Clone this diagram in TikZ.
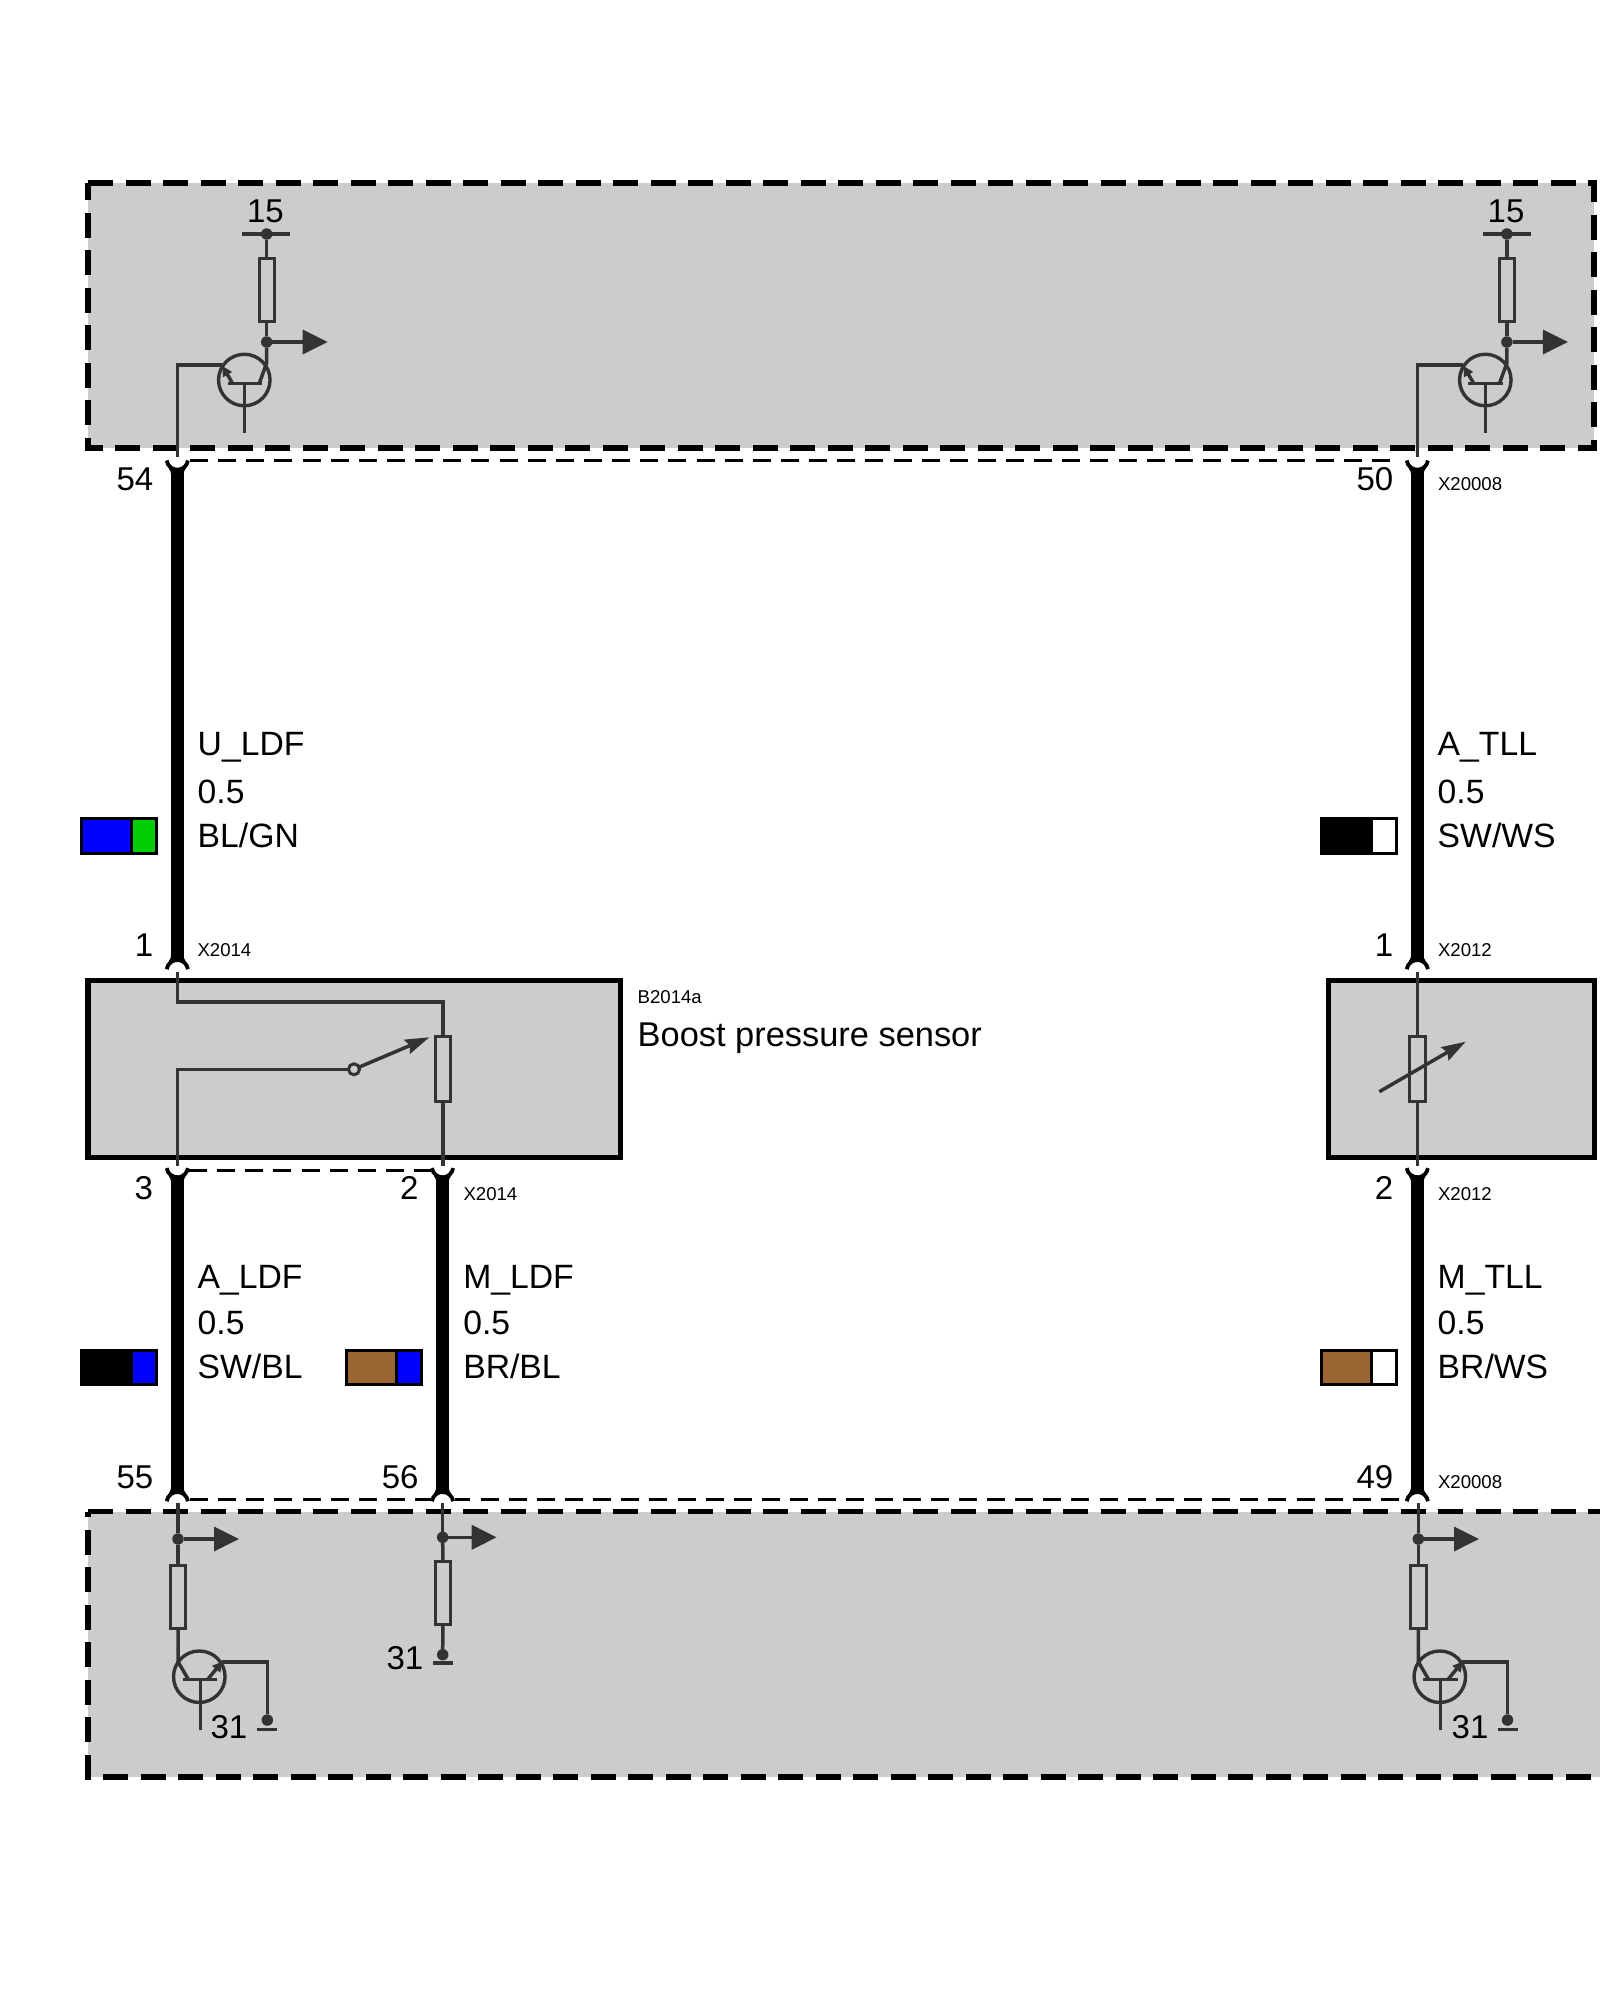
\documentclass[tikz,border=0pt]{standalone}
\usepackage{fontspec}
\setmainfont{Liberation Sans}
\usetikzlibrary{arrows.meta,positioning}
\definecolor{ecugray}{RGB}{204,204,204}
\definecolor{wiregray}{RGB}{51,51,51}
\definecolor{wirebrown}{RGB}{153,102,51}
\definecolor{wiregreen}{RGB}{0,204,0}

\begin{document}
\begin{tikzpicture}[
        x=1pt, y=-1pt,
        ecu/.style={fill=ecugray, draw=black, line width=5.6pt, dash pattern=on 25pt off 12.5pt},
        sensor/.style={rectangle, fill=ecugray, draw=black, line width=5.3pt, inner sep=0pt, outer sep=0pt, anchor=north west},
        wire/.style={draw=black, line width=12.4pt},
        thinwire/.style={draw=wiregray, line width=3.5pt},
        groupline/.style={draw=black, line width=3pt, dash pattern=on 18pt off 10.14pt},
        resistor/.style={rectangle, draw=wiregray, line width=3.4pt, minimum width=15pt, minimum height=63pt, inner sep=0pt, outer sep=0pt},
        joint/.style={circle, fill=wiregray, minimum size=11.5pt, inner sep=0pt, outer sep=0pt},
        tran/.style={circle, draw=wiregray, line width=3.4pt, minimum size=51.5pt, inner sep=0pt, outer sep=0pt},
        flag/.style={thinwire, -{Triangle[length=25pt,width=24pt]}},
        wiper/.style={thinwire, -{Stealth[length=24pt,width=15pt,inset=3pt]}},
        emit/.style={thinwire, -{Triangle[length=10pt,width=10pt]}},
        swatch/.style={rectangle, draw=black, line width=3pt, minimum height=34.5pt, inner sep=0pt, outer sep=0pt},
        big/.style={anchor=base west, inner sep=0pt, outer sep=0pt, text=black, font=\fontsize{33.7}{36}\selectfont},
        pinno/.style={anchor=base east, inner sep=0pt, outer sep=0pt, text=black, font=\fontsize{33}{36}\selectfont},
        term/.style={anchor=base, inner sep=0pt, outer sep=0pt, text=black, font=\fontsize{33}{36}\selectfont},
        tag/.style={anchor=base west, inner sep=0pt, outer sep=0pt, text=black, font=\fontsize{18.6}{20}\selectfont},
        capover/.pic={
            \fill[black] (-6.2,-5) .. controls (-6.2,-2.5) and (-7,-1) .. (-8.5,1.5) -- (0,1) -- (8.5,1.5) .. controls (7,-1) and (6.2,-2.5) .. (6.2,-5) -- cycle;
            \draw[black, line width=3.8pt] (-10.6,9.2) arc[start angle=172, end angle=8, radius=10.7pt];
        },
        capunder/.pic={
            \fill[black] (-6.2,5) .. controls (-6.2,2.5) and (-7,1) .. (-8.5,-1.5) -- (0,-1) -- (8.5,-1.5) .. controls (7,1) and (6.2,2.5) .. (6.2,5) -- cycle;
            \draw[black, line width=3.8pt] (-10.6,-9.2) arc[start angle=188, end angle=352, radius=10.7pt];
        }
    ]
        \clip (0,0) rectangle (1600,2000);

        % Control units
        \path[ecu] (88,183) -- (1594,183) -- (1594,448) -- (88,448) -- cycle;
        \path[ecu] (88,1511.5) -- (1625.25,1511.5) -- (1625.25,1777) -- (88,1777) -- cycle;

        % Sensors
        \node[sensor, minimum width=532.6pt, minimum height=177pt] (ldf) at (88,980.5) {};
        \node[sensor, minimum width=266.5pt, minimum height=177pt] (tll) at (1328.3,980.5) {};

        % Pins
        \coordinate (p54) at (177.3,469.7);
        \coordinate (p50) at (1417.3,469.7);
        \coordinate (p1l) at (177.3,960);
        \coordinate (p1r) at (1417.3,960);
        \coordinate (p3) at (177.3,1177.3);
        \coordinate (p2l) at (442.5,1177.3);
        \coordinate (p2r) at (1417.3,1177.3);
        \coordinate (p55) at (177.3,1492);
        \coordinate (p56) at (442.5,1492);
        \coordinate (p49) at (1417.3,1492);

        % Wires
        \draw[wire] (p54) -- (p1l);
        \draw[wire] (p50) -- (p1r);
        \draw[wire] (p3) -- (p55);
        \draw[wire] (p2l) -- (p56);
        \draw[wire] (p2r) -- (p49);

        \pic at (p54) {capunder};
        \pic at (p50) {capunder};
        \pic at (p1l) {capover};
        \pic at (p1r) {capover};
        \pic at (p3) {capunder};
        \pic at (p2l) {capunder};
        \pic at (p2r) {capunder};
        \pic at (p55) {capover};
        \pic at (p56) {capover};
        \pic at (p49) {capover};

        % Connector group lines
        \coordinate (ga) at (190,460.7);
        \coordinate (gb) at (1392,460.7);
        \coordinate (gc) at (189,1170);
        \coordinate (gd) at (432,1170);
        \coordinate (ge) at (190,1499);
        \coordinate (gf) at (431,1499);
        \coordinate (gg) at (455,1499);
        \coordinate (gh) at (1400,1499);
        \draw[groupline] (ga) -- (gb);
        \draw[groupline] (gc) -- (gd);
        \draw[groupline] (ge) -- (gf);
        \draw[groupline, dash phase=2.6pt] (gg) -- (gh);

        % Top left driver
        \node[joint] (s15a) at (266.7,234) {};
        \node[resistor] (r15a) at (266.7,290) {};
        \node[joint] (j15a) at (266.7,342) {};
        \node[tran] (q15a) at (244.3,380) {};
        \node[term] (t15a) at (265.5,222.5) {15};
        \coordinate (fa) at (327.7,342);
        \coordinate (ca) at (266.7,363);
        \coordinate (cb) at (259.3,383.3);
        \coordinate (ba) at (227.7,383.3);
        \coordinate (bb) at (261.7,383.3);
        \coordinate (bc) at (244.3,383.3);
        \coordinate (bd) at (244.3,433.3);
        \coordinate (ea) at (232.3,383);
        \coordinate (eb) at (222.5,366);
        \coordinate (ec) at (222,365);
        \coordinate (pa) at (177.3,457);
        \draw[thinwire] (242.3,234) -- (290,234);
        \draw[thinwire] (s15a) -- (r15a);
        \draw[thinwire] (r15a) -- (j15a);
        \draw[flag] (j15a) -- (fa);
        \draw[thinwire] (j15a) -- (ca) -- (cb);
        \draw[thinwire] (ba) -- (bb);
        \draw[thinwire] (bc) -- (bd);
        \draw[emit] (ea) -- (eb);
        \draw[thinwire] (pa) |- (ec);

        % Top right driver
        \node[joint] (s15b) at (1506.9,234) {};
        \node[resistor] (r15b) at (1506.9,290) {};
        \node[joint] (j15b) at (1506.9,342) {};
        \node[tran] (q15b) at (1485.3,380) {};
        \node[term] (t15b) at (1506,222.5) {15};
        \coordinate (fb) at (1567.9,342);
        \coordinate (cc) at (1506.9,363);
        \coordinate (cd) at (1499.5,383.3);
        \coordinate (be) at (1468,383.3);
        \coordinate (bf) at (1502.5,383.3);
        \coordinate (bg) at (1485.3,383.3);
        \coordinate (bh) at (1485.3,433.3);
        \coordinate (ed) at (1473.5,383);
        \coordinate (ee) at (1463.5,366);
        \coordinate (ef) at (1463,365);
        \coordinate (pb) at (1417.3,457);
        \draw[thinwire] (1482.5,234) -- (1530.5,234);
        \draw[thinwire] (s15b) -- (r15b);
        \draw[thinwire] (r15b) -- (j15b);
        \draw[flag] (j15b) -- (fb);
        \draw[thinwire] (j15b) -- (cc) -- (cd);
        \draw[thinwire] (be) -- (bf);
        \draw[thinwire] (bg) -- (bh);
        \draw[emit] (ed) -- (ee);
        \draw[thinwire] (pb) |- (ef);

        % Boost pressure sensor
        \node[resistor, minimum height=65pt] (rldf) at (443,1068.8) {};
        \node[circle, draw=wiregray, line width=3pt, minimum size=11pt, inner sep=0pt, outer sep=0pt] (sw) at (354,1069.3) {};
        \coordinate (la) at (177.3,971.7);
        \coordinate (lb) at (177.3,1166);
        \coordinate (lc) at (443,1166);
        \coordinate (ld) at (429.3,1037.3);
        \draw[thinwire] (la) -- (177.3,1002) -- (443,1002) -- (rldf.north);
        \draw[thinwire] (lb) |- (sw.west);
        \draw[thinwire] (rldf) -- (lc);
        \draw[wiper] (sw) -- (ld);

        % Temperature sensor
        \node[resistor, minimum width=16pt, minimum height=65pt] (rtll) at (1417.3,1068.8) {};
        \coordinate (ra) at (1417.3,971.7);
        \coordinate (rb) at (1417.3,1166);
        \coordinate (rc) at (1379.3,1091.7);
        \coordinate (rd) at (1465.7,1041.7);
        \draw[thinwire] (ra) -- (rtll);
        \draw[thinwire] (rtll) -- (rb);
        \draw[wiper] (rc) -- (rd);

        % Bottom left driver
        \coordinate (pc) at (178,1503);
        \node[joint] (j55) at (178,1539) {};
        \node[resistor] (r55) at (178,1597) {};
        \node[tran] (q55) at (199.3,1676.7) {};
        \node[joint] (g55) at (267.3,1720) {};
        \node[term] (t55) at (229,1738) {31};
        \coordinate (f55) at (239,1539);
        \coordinate (c55a) at (178,1661.7);
        \coordinate (c55b) at (188.3,1679.3);
        \coordinate (b55a) at (182.7,1679.3);
        \coordinate (b55b) at (217.3,1679.3);
        \coordinate (b55c) at (200.3,1679.3);
        \coordinate (b55d) at (200.3,1730);
        \coordinate (e55a) at (208,1679);
        \coordinate (e55b) at (222.5,1661.5);
        \coordinate (e55c) at (221.7,1662);
        \draw[thinwire] (pc) -- (j55);
        \draw[thinwire] (j55) -- (r55);
        \draw[flag] (j55) -- (f55);
        \draw[thinwire] (r55) -- (c55a) -- (c55b);
        \draw[thinwire] (b55a) -- (b55b);
        \draw[thinwire] (b55c) -- (b55d);
        \draw[emit] (e55a) -- (e55b);
        \draw[thinwire] (e55c) -| (g55);
        \draw[thinwire] (256.7,1729.3) -- (277.3,1729.3);

        % Bottom middle pull-down
        \coordinate (pd) at (442.7,1503);
        \node[joint] (j56) at (442.7,1537.3) {};
        \node[resistor] (r56) at (443,1593) {};
        \node[joint] (g56) at (442.7,1654.7) {};
        \node[term] (t56) at (405,1669) {31};
        \coordinate (f56) at (496.7,1537.3);
        \draw[thinwire] (pd) -- (j56);
        \draw[thinwire] (j56) -- (r56);
        \draw[flag] (j56) -- (f56);
        \draw[thinwire] (r56) -- (g56);
        \draw[thinwire] (432.7,1663) -- (453.3,1663);

        % Bottom right driver
        \coordinate (pe) at (1418.3,1503);
        \node[joint] (j49) at (1418.3,1539) {};
        \node[resistor, minimum width=16pt] (r49) at (1418.3,1597) {};
        \node[tran] (q49) at (1439.8,1676.7) {};
        \node[joint] (g49) at (1507.5,1720) {};
        \node[term] (t49) at (1470,1738) {31};
        \coordinate (f49) at (1479,1539);
        \coordinate (c49a) at (1418.3,1661.7);
        \coordinate (c49b) at (1428.5,1679.3);
        \coordinate (b49a) at (1423,1679.3);
        \coordinate (b49b) at (1457.5,1679.3);
        \coordinate (b49c) at (1440.3,1679.3);
        \coordinate (b49d) at (1440.3,1730);
        \coordinate (e49a) at (1448.3,1679);
        \coordinate (e49b) at (1462.8,1661.5);
        \coordinate (e49c) at (1462,1662);
        \draw[thinwire] (pe) -- (j49);
        \draw[thinwire] (j49) -- (r49);
        \draw[flag] (j49) -- (f49);
        \draw[thinwire] (r49) -- (c49a) -- (c49b);
        \draw[thinwire] (b49a) -- (b49b);
        \draw[thinwire] (b49c) -- (b49d);
        \draw[emit] (e49a) -- (e49b);
        \draw[thinwire] (e49c) -| (g49);
        \draw[thinwire] (1497.5,1729.3) -- (1517.5,1729.3);

        % Colour swatches
        \node[swatch, fill=blue, minimum width=50.2pt, anchor=west] (ulda) at (81.5,835.8) {};
        \node[swatch, fill=wiregreen, minimum width=25.1pt, right=0pt of ulda] (uldb) {};
        \node[swatch, fill=black, minimum width=50.2pt, anchor=west] (atla) at (1321.5,835.8) {};
        \node[swatch, fill=white, minimum width=25.1pt, right=0pt of atla] (atlb) {};
        \node[swatch, fill=black, minimum width=50.2pt, anchor=west] (alda) at (81.5,1367.5) {};
        \node[swatch, fill=blue, minimum width=25.1pt, right=0pt of alda] (aldb) {};
        \node[swatch, fill=wirebrown, minimum width=50.2pt, anchor=west] (mlda) at (346.5,1367.5) {};
        \node[swatch, fill=blue, minimum width=25.1pt, right=0pt of mlda] (mldb) {};
        \node[swatch, fill=wirebrown, minimum width=50.2pt, anchor=west] (mtla) at (1321.5,1367.5) {};
        \node[swatch, fill=white, minimum width=25.1pt, right=0pt of mtla] (mtlb) {};

        % Wire labels
        \node[big] (uldf) at (197.7,755.7) {U\_LDF};
        \node[big] (uldfs) at (197.7,803) {0.5};
        \node[big] (uldfc) at (197.7,847.4) {BL/GN};
        \node[big] (atll) at (1437.7,755.7) {A\_TLL};
        \node[big] (atlls) at (1437.7,803) {0.5};
        \node[big] (atllc) at (1437.7,847.4) {SW/WS};
        \node[big] (aldf) at (197.7,1288.3) {A\_LDF};
        \node[big] (aldfs) at (197.7,1334) {0.5};
        \node[big] (aldfc) at (197.7,1378) {SW/BL};
        \node[big] (mldf) at (463.3,1288.3) {M\_LDF};
        \node[big] (mldfs) at (463.3,1334) {0.5};
        \node[big] (mldfc) at (463.3,1378) {BR/BL};
        \node[big] (mtll) at (1437.7,1288.3) {M\_TLL};
        \node[big] (mtlls) at (1437.7,1334) {0.5};
        \node[big] (mtllc) at (1437.7,1378) {BR/WS};

        % Pin numbers
        \node[pinno] (n54) at (153.3,490.7) {54};
        \node[pinno] (n50) at (1393.3,490.7) {50};
        \node[pinno] (n1l) at (153.3,956) {1};
        \node[pinno] (n1r) at (1393.3,956) {1};
        \node[pinno] (n3) at (153,1199.3) {3};
        \node[pinno] (n2l) at (418.5,1199.3) {2};
        \node[pinno] (n2r) at (1393.3,1199.3) {2};
        \node[pinno] (n55) at (153.3,1488) {55};
        \node[pinno] (n56) at (418.5,1488) {56};
        \node[pinno] (n49) at (1393.3,1488) {49};

        % Connector tags
        \node[tag] (x1) at (197.5,956.6) {X2014};
        \node[tag] (x2) at (463.5,1200) {X2014};
        \node[tag] (x3) at (1438,956.6) {X2012};
        \node[tag] (x4) at (1438,1200) {X2012};
        \node[tag] (x5) at (1438,490.7) {X20008};
        \node[tag] (x6) at (1438,1488.3) {X20008};
        \node[tag] (b2014) at (637.7,1003) {B2014a};
        \node[big, font=\fontsize{34.4}{36}\selectfont] (boost) at (637.7,1046.7) {Boost pressure sensor};
    \end{tikzpicture}
\end{document}
